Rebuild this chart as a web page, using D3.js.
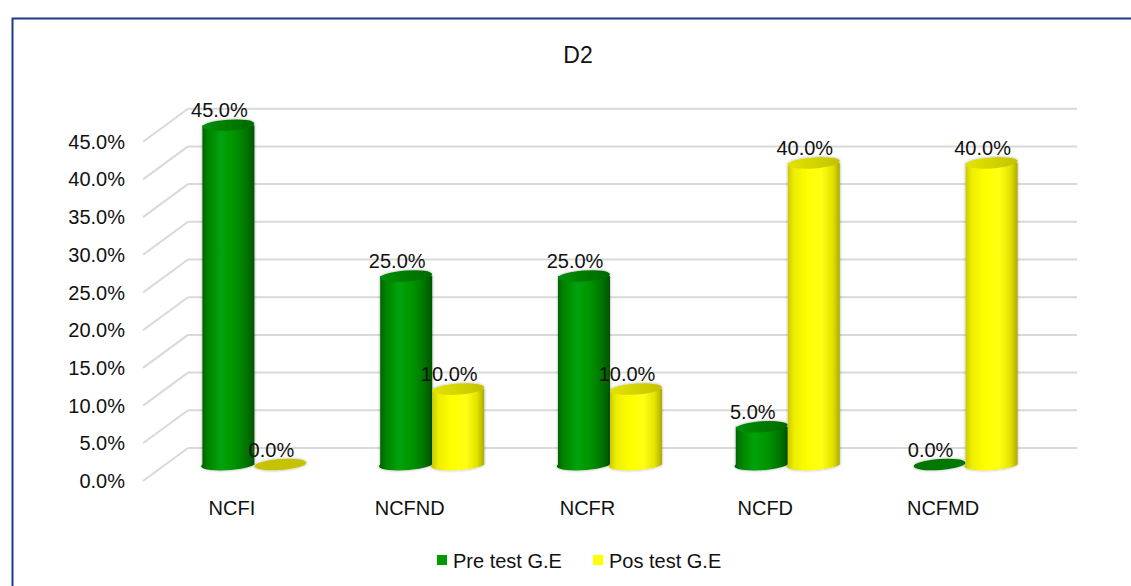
<!DOCTYPE html>
<html>
<head>
<meta charset="utf-8">
<script src="https://cdn.jsdelivr.net/npm/d3@7"></script>
<style>
  html, body { margin: 0; padding: 0; background: #fff; }
  svg { display: block; font-family: "Liberation Sans", Arial, sans-serif; }
</style>
</head>
<body>
<svg id="chart" width="1131" height="586"></svg>
<script>
// Chart data
const title = "D2";
const categories = ["NCFI", "NCFND", "NCFR", "NCFD", "NCFMD"];
const seriesNames = ["Pre test G.E", "Pos test G.E"];
const preTest = [45.0, 25.0, 25.0, 5.0, 0.0];
const posTest = [0.0, 10.0, 10.0, 40.0, 40.0];
const yTicks = [0, 5, 10, 15, 20, 25, 30, 35, 40, 45];

const svg = d3.select("#chart");
const W = 1131, H = 586;

// Frame of the chart area
svg.append("rect")
  .attr("x", 12.5).attr("y", 18.5)
  .attr("width", W + 20).attr("height", H + 20)
  .attr("fill", "#fff")
  .attr("stroke", "#1f3a86").attr("stroke-width", 2);

// Plot geometry: front plane + depth vector toward the back wall
const front = { left: 143, right: 1032, bottom: 481, top: 141.7 };
const depth = { dx: 45, dy: -33 };
const mid = { dx: depth.dx / 2, dy: depth.dy / 2 };

const y = d3.scaleLinear().domain([0, 45]).range([front.bottom, front.top]);
const x = d3.scaleBand().domain(categories).range([front.left, front.right]).padding(0);
const xs = d3.scaleBand().domain(seriesNames).range([-52, 52]).padding(0);

const defs = svg.append("defs");

function hGrad(id, stops) {
  const g = defs.append("linearGradient").attr("id", id)
    .attr("x1", "0%").attr("x2", "100%").attr("y1", "0%").attr("y2", "0%");
  stops.forEach(([o, c]) => g.append("stop").attr("offset", o).attr("stop-color", c));
}
hGrad("greenBody", [["0%", "#005c00"], ["12%", "#008200"], ["38%", "#00a30a"], ["62%", "#009400"], ["85%", "#007400"], ["100%", "#005400"]]);
hGrad("yellowBody", [["0%", "#c4c400"], ["14%", "#eeee00"], ["40%", "#ffff00"], ["65%", "#ffff14"], ["86%", "#e4e400"], ["100%", "#acac00"]]);
hGrad("greenTop", [["0%", "#00900a"], ["50%", "#007c00"], ["100%", "#006a00"]]);
hGrad("yellowTop", [["0%", "#e2e200"], ["50%", "#d4d400"], ["100%", "#c2c200"]]);

const soft = defs.append("filter").attr("id", "soft")
  .attr("x", "-20%").attr("y", "-10%").attr("width", "140%").attr("height", "120%");
soft.append("feGaussianBlur").attr("in", "SourceAlpha").attr("stdDeviation", 1.6).attr("result", "b");
soft.append("feComponentTransfer").attr("in", "b").attr("result", "s")
  .append("feFuncA").attr("type", "linear").attr("slope", 0.35);
const merge = soft.append("feMerge");
merge.append("feMergeNode").attr("in", "s");
merge.append("feMergeNode").attr("in", "SourceGraphic");

// Gridlines: back wall + receding floor-to-wall diagonals
const grid = svg.append("g").attr("stroke", "#d9d9d9").attr("stroke-width", 2).attr("fill", "none");
yTicks.forEach(t => {
  const fy = y(t);
  grid.append("line")
    .attr("x1", front.left).attr("y1", fy)
    .attr("x2", front.left + depth.dx).attr("y2", fy + depth.dy);
  grid.append("line")
    .attr("x1", front.left + depth.dx).attr("y1", fy + depth.dy)
    .attr("x2", front.right + depth.dx).attr("y2", fy + depth.dy);
});

// Y axis labels
svg.append("g").selectAll("text").data(yTicks).join("text")
  .attr("x", 125).attr("y", d => y(d) + 7)
  .attr("text-anchor", "end").attr("font-size", 20).attr("fill", "#111")
  .text(d => d.toFixed(1) + "%");

// Category labels
svg.append("g").selectAll("text").data(categories).join("text")
  .attr("x", d => x(d) + x.bandwidth() / 2).attr("y", 515)
  .attr("text-anchor", "middle").attr("font-size", 20).attr("fill", "#111")
  .text(d => d);

// Title
svg.append("text").attr("x", 578).attr("y", 63)
  .attr("text-anchor", "middle").attr("font-size", 23).attr("fill", "#111")
  .text(title);

// Cylinders
const series = [
  { name: seriesNames[0], values: preTest, body: "url(#greenBody)", top: "url(#greenTop)", flat: "#007800", legend: "#009900" },
  { name: seriesNames[1], values: posTest, body: "url(#yellowBody)", top: "url(#yellowTop)", flat: "#c6c200", legend: "#ffff00" }
];
const rx = 26, ry = 5.5, tilt = -4;

const bars = [];
categories.forEach((c, i) => {
  series.forEach(s => {
    const cx = x(c) + x.bandwidth() / 2 + mid.dx + xs(s.name) + xs.bandwidth() / 2;
    bars.push({ c, s, v: s.values[i], cx, yb: y(0) + mid.dy, yt: y(s.values[i]) + mid.dy });
  });
});

const barG = svg.append("g");
bars.forEach(b => {
  const g = barG.append("g").attr("filter", "url(#soft)");
  if (b.v === 0) {
    g.append("ellipse").attr("cx", b.cx).attr("cy", b.yb)
      .attr("rx", rx).attr("ry", ry)
      .attr("transform", `rotate(${tilt},${b.cx},${b.yb})`)
      .attr("fill", b.s.flat);
  } else {
    g.append("path")
      .attr("d", `M${b.cx - rx},${b.yt} L${b.cx - rx},${b.yb} A${rx},${ry} ${tilt} 0 0 ${b.cx + rx},${b.yb} L${b.cx + rx},${b.yt} Z`)
      .attr("fill", b.s.body);
    g.append("ellipse").attr("cx", b.cx).attr("cy", b.yt)
      .attr("rx", rx).attr("ry", ry)
      .attr("transform", `rotate(${tilt},${b.cx},${b.yt})`)
      .attr("fill", b.s.top);
  }
});

// Value labels
svg.append("g").selectAll("text").data(bars).join("text")
  .attr("x", d => d.cx - 9).attr("y", d => d.yt - 8)
  .attr("text-anchor", "middle").attr("font-size", 20).attr("fill", "#111")
  .text(d => d.v.toFixed(1) + "%");

// Legend
const legendX = [437, 593];
const leg = svg.append("g");
series.forEach((s, i) => {
  leg.append("rect").attr("x", legendX[i]).attr("y", 555).attr("width", 10).attr("height", 10).attr("fill", s.legend);
  leg.append("text").attr("x", legendX[i] + 16).attr("y", 568)
    .attr("font-size", 20).attr("fill", "#111").text(s.name);
});
</script>
</body>
</html>
